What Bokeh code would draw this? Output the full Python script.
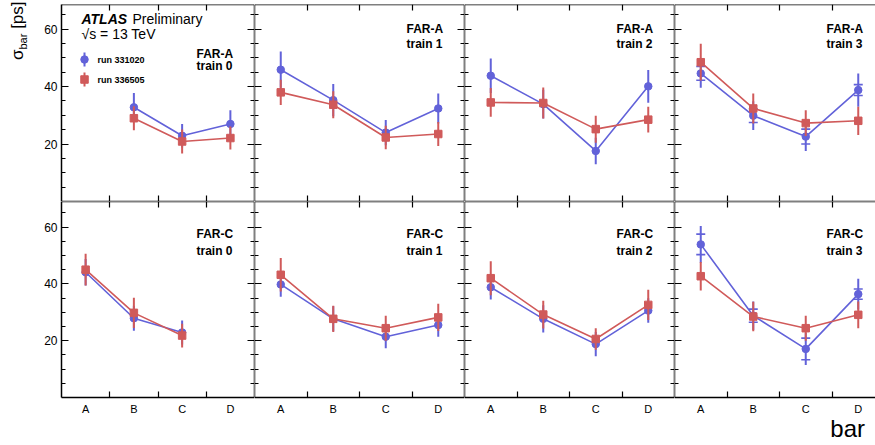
import math
from bokeh.plotting import figure
from bokeh.layouts import gridplot, row, column
from bokeh.models import LinearAxis, FixedTicker, Range1d, Label, ColumnDataSource, Div
from bokeh.embed import file_html
from bokeh.resources import INLINE

nan = float("nan")

# ---------------- data ----------------
bars = ["A", "B", "C", "D"]
stations = ["FAR-A", "FAR-C"]
trains = ["train 0", "train 1", "train 2", "train 3"]
runs = ["run 331020", "run 336505"]
y_ticks = [20, 40, 60]

# sigma_bar [ps], one row per train
far_a_331020 = [[nan, 32.8, 22.9, 27.0],
                [45.9, 35.3, 24.0, 32.4],
                [43.8, 33.9, 17.6, 40.1],
                [44.6, 29.9, 22.6, 38.8]]
far_a_331020_err = [[nan, 5.0, 4.1, 4.8],
                    [6.3, 5.6, 4.4, 5.2],
                    [6.0, 5.0, 4.6, 5.7],
                    [5.0, 5.0, 5.0, 5.8]]
far_a_336505 = [[nan, 29.0, 20.9, 22.1],
                [38.0, 33.7, 22.3, 23.5],
                [34.5, 34.3, 25.2, 28.5],
                [48.5, 32.4, 27.3, 28.1]]
far_a_336505_err = [[nan, 4.2, 4.2, 4.0],
                    [4.4, 4.7, 4.1, 4.2],
                    [5.0, 5.4, 4.7, 4.5],
                    [6.4, 5.2, 4.5, 4.9]]
far_c_331020 = [[44.1, 27.9, 22.9, nan],
                [39.8, 27.7, 21.4, 25.5],
                [38.8, 27.7, 18.8, 30.6],
                [53.9, 28.8, 17.1, 36.4]]
far_c_331020_err = [[4.7, 4.4, 4.2, nan],
                    [4.3, 4.4, 4.1, 4.1],
                    [4.3, 4.8, 4.3, 4.3],
                    [6.5, 5.0, 5.7, 5.4]]
far_c_336505 = [[45.0, 29.8, 21.8, nan],
                [43.2, 27.7, 24.4, 28.2],
                [42.0, 29.2, 20.6, 32.6],
                [42.7, 28.5, 24.4, 29.1]]
far_c_336505_err = [[5.6, 5.3, 4.2, nan],
                    [5.9, 4.6, 4.4, 4.8],
                    [6.0, 4.9, 3.8, 5.3],
                    [5.0, 5.2, 4.4, 4.7]]
# inner (statistical) error of run 331020, train 3 only
far_a_331020_t3_inner = [2.4, 2.4, 2.6, 1.9]
far_c_331020_t3_inner = [3.6, 2.3, 3.8, 1.8]

values = {"FAR-A": (far_a_331020, far_a_336505), "FAR-C": (far_c_331020, far_c_336505)}
errors = {"FAR-A": (far_a_331020_err, far_a_336505_err), "FAR-C": (far_c_331020_err, far_c_336505_err)}
inner = {"FAR-A": far_a_331020_t3_inner, "FAR-C": far_c_331020_t3_inner}

# ---------------- style / geometry ----------------
FONT = "Liberation Sans"
BLUE = "#6262d9"
RED = "#d05a5a"
colors = [BLUE, RED]
markers = ["circle", "square"]

YDIV_W = 32
LEFT = 61                      # page x of first frame's left edge
col_w = [193, 210, 210, 201]
col_scale = [193 / 4.0, 52.5, 52.5, 52.5]
col_xmax = [3.5, 3.5, 3.5, -0.5 + 201 / 52.5]
TOP = 4
row_h = [197, 196]
row_bottom = [201, 397]
row_ymax = [68.6, 69.0]
BOTTOM_AXIS = 20
XDIV_H = 27

x_idx = list(range(len(bars)))
y_minor = [v for v in range(5, 70, 5) if v not in y_ticks]


def style_axis(ax, labeled, size="12px"):
    ax.axis_line_color = "black"
    ax.axis_line_width = 1.5
    ax.major_tick_line_color = "black"
    ax.minor_tick_line_color = "black"
    ax.major_tick_line_width = 1.2
    ax.minor_tick_line_width = 1.2
    ax.major_tick_out = 0
    ax.minor_tick_out = 0
    ax.major_label_text_font = FONT
    ax.major_label_text_font_size = size
    ax.major_label_text_color = "black" if labeled else None


def yaxis(labeled, loc=None):
    ax = LinearAxis(ticker=FixedTicker(ticks=y_ticks, minor_ticks=y_minor))
    style_axis(ax, labeled)
    ax.major_tick_in = 7
    ax.minor_tick_in = 4
    ax.major_label_standoff = 4
    if loc is not None:
        ax.fixed_location = loc
    return ax


def xaxis(labeled, loc=None):
    ax = LinearAxis(ticker=FixedTicker(ticks=x_idx, minor_ticks=[i + 0.5 for i in x_idx[:-1]]))
    style_axis(ax, labeled, "11px")
    ax.major_tick_in = 0
    ax.minor_tick_in = 6
    ax.major_label_standoff = 5
    ax.major_label_overrides = {i: b for i, b in zip(x_idx, bars)}
    if loc is not None:
        ax.fixed_location = loc
    return ax


figs = []
for r, st in enumerate(stations):
    frow = []
    for c, tr in enumerate(trains):
        p = figure(frame_width=col_w[c], frame_height=row_h[r],
                   x_range=Range1d(-0.5, col_xmax[c]), y_range=Range1d(0, row_ymax[r]),
                   output_backend="svg", toolbar_location=None,
                   x_axis_location=None, y_axis_location=None,
                   min_border=0, outline_line_color=None,
                   background_fill_color="white", border_fill_color="white")
        p.min_border_left = (LEFT - YDIV_W) if c == 0 else 0
        p.min_border_bottom = BOTTOM_AXIS if r == 1 else 0
        p.min_border_top = TOP if r == 0 else 0
        p.grid.visible = False

        # axes (ticks pointing inwards on all sides)
        p.add_layout(yaxis(c == 0, None if c == 0 else -0.5), "left")
        if c < 3:
            p.add_layout(yaxis(False, 3.5), "right")
        p.add_layout(xaxis(r == 1, None if r == 1 else 0), "below")
        p.add_layout(xaxis(False, row_ymax[r]), "above")

        # series
        for k in range(2):
            y = values[st][k][c]
            e = errors[st][k][c]
            src = ColumnDataSource(dict(x=x_idx, y=y,
                                        lo=[a - b for a, b in zip(y, e)],
                                        hi=[a + b for a, b in zip(y, e)]))
            p.line("x", "y", source=src, line_color=colors[k], line_width=1.6)
            p.segment(x0="x", y0="lo", x1="x", y1="hi", source=src,
                      line_color=colors[k], line_width=2)
            if k == 0 and c == 3:
                ie = inner[st]
                isrc = ColumnDataSource(dict(x=x_idx + x_idx,
                                             y=[a - b for a, b in zip(y, ie)] + [a + b for a, b in zip(y, ie)]))
                p.scatter("x", "y", source=isrc, marker="dash", size=9,
                          line_color=colors[k], line_width=1.6)
            p.scatter("x", "y", source=src, marker=markers[k], size=7.5,
                      fill_color=colors[k], line_color=colors[k])

        # panel label
        sc = col_scale[c]
        ysc = row_h[r] / row_ymax[r]
        lx = 3.5 - 58 / sc
        yb = row_bottom[r]
        if r == 0 and c == 0:
            ly = [(yb - 53.3) / ysc, (yb - 65.0) / ysc]
        elif r == 0:
            ly = [(yb - 28.3) / ysc, (yb - 43.3) / ysc]
        else:
            ly = [(yb - 233.3) / ysc, (yb - 250.0) / ysc]
        for txt, yy in zip([st, tr], ly):
            p.add_layout(Label(x=lx, y=yy, text=txt, text_font=FONT, text_font_size="12px",
                               text_font_style="bold", text_align="left",
                               text_baseline="middle", text_color="black"))
        frow.append(p)
    figs.append(frow)

# ---------------- legend & labels in first panel ----------------
p0 = figs[0][0]
sc0 = col_scale[0]
ysc0 = row_h[0] / row_ymax[0]


def dx(px):
    return -0.5 + (px - LEFT) / sc0


def dy(py):
    return (row_bottom[0] - py) / ysc0


p0.add_layout(Label(x=dx(81), y=dy(18.5), text="ATLAS", text_font=FONT, text_font_size="14px",
                    text_font_style="bold italic", text_baseline="middle", text_color="black"))
p0.add_layout(Label(x=dx(132), y=dy(18.5), text="Preliminary", text_font=FONT, text_font_size="14px",
                    text_baseline="middle", text_color="black"))
p0.add_layout(Label(x=dx(81), y=dy(33.5), text="\u221As = 13 TeV", text_font=FONT, text_font_size="14px",
                    text_baseline="middle", text_color="black"))

leg_y = [dy(59), dy(79)]
leg_half = 7 / ysc0
for k in range(2):
    lsrc = ColumnDataSource(dict(x=[dx(84)], y=[leg_y[k]],
                                 lo=[leg_y[k] - leg_half], hi=[leg_y[k] + leg_half]))
    p0.segment(x0="x", y0="lo", x1="x", y1="hi", source=lsrc, line_color=colors[k], line_width=2)
    p0.scatter("x", "y", source=lsrc, marker=markers[k], size=7.5,
               fill_color=colors[k], line_color=colors[k])
    p0.add_layout(Label(x=dx(97), y=leg_y[k], text=runs[k], text_font=FONT, text_font_size="9px",
                        text_font_style="bold", text_baseline="middle", text_color="black"))

grid = gridplot(figs, toolbar_location=None)

grid_h = TOP + row_h[0] + row_h[1] + BOTTOM_AXIS

# y-axis title: html text rotated by -90 deg about its top-left corner,
# so it reads upwards starting at page y = 60
ytitle = Div(text=(
    '<div style="position:absolute; left:8px; top:60px; '
    'transform-origin:0 0; transform:rotate(-90deg); white-space:nowrap; '
    "font-family:'Liberation Sans'; font-size:17px; line-height:20px; color:black;\">"
    '\u03c3<sub style="font-size:11px">bar</sub> [ps]</div>'),
    width=YDIV_W, height=grid_h, margin=0)

# x-axis title, right aligned
xtitle = Div(text=(
    "<div style=\"font-family:'Liberation Sans'; font-size:24px; line-height:24px; "
    'text-align:right; padding-right:5px; color:black; width:870px;">bar</div>'),
    width=875, height=XDIV_H, margin=0)

layout = column(row(ytitle, grid, spacing=0), xtitle, spacing=0)

open("out.html", "w").write(file_html(layout, INLINE))
